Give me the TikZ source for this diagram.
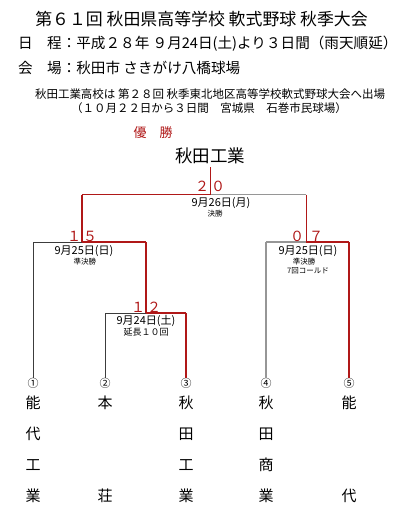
\documentclass[tikz,border=0pt]{standalone}
\usepackage{fontspec}
\setmainfont{Noto Sans CJK JP}
\begin{document}
\begin{tikzpicture}[x=1pt,y=-1pt,
  txt/.style={inner sep=0pt,outer sep=0pt},
  win/.style={draw=winred,line width=1.6pt},
  winthin/.style={draw=winred,line width=0.9pt},
  lose/.style={draw=losedark,line width=0.9pt},
  losegray/.style={draw=losegray,line width=1.2pt},
  score/.style={txt,text=winred,font=\fontsize{14}{14}\selectfont},
  datet/.style={txt,font=\fontsize{11}{11}\selectfont},
  subt/.style={txt,font=\fontsize{7.5}{7.5}\selectfont},
  numc/.style={txt,font=\fontsize{11}{11}\selectfont},
  team/.style={txt,font=\fontsize{15}{15}\selectfont}]
\definecolor{winred}{RGB}{176,24,24}
\definecolor{losedark}{RGB}{60,60,60}
\definecolor{losegray}{RGB}{150,150,150}
\useasboundingbox[fill=white] (0,0) rectangle (400,515);

% header
\node[txt,font=\fontsize{16.9}{16.9}\selectfont] (title) at (201.5,19) {第６１回 秋田県高等学校 軟式野球 秋季大会};
\node[txt,anchor=west,font=\fontsize{14.6}{14.6}\selectfont] (sched) at (18,44) {日　程：平成２８年 ９月24日(土)より３日間（雨天順延）};
\node[txt,anchor=west,font=\fontsize{14.6}{14.6}\selectfont] (venue) at (18,68) {会　場：秋田市 さきがけ八橋球場};
\node[txt,anchor=west,font=\fontsize{11.5}{11.5}\selectfont] (note1) at (35,94) {秋田工業高校は 第２８回 秋季東北地区高等学校軟式野球大会へ出場};
\node[txt,anchor=west,font=\fontsize{11.5}{11.5}\selectfont] (note2) at (71,108) {（１０月２２日から３日間　宮城県　石巻市民球場）};
\node[txt,text=winred,font=\fontsize{13}{13}\selectfont] (champ) at (153,133) {優　勝};
\node[txt,font=\fontsize{17.5}{17.5}\selectfont] (winner) at (210,156) {秋田工業};

% bracket coordinates
\coordinate (ftop) at (210,167);
\coordinate (fmid) at (210,194.5);
\coordinate (fl) at (82,194.5);
\coordinate (fr) at (306,194.5);
\coordinate (sl) at (82,242);
\coordinate (sr) at (306,242);
\coordinate (sla) at (33,242);
\coordinate (slb) at (146,242);
\coordinate (sra) at (266,242);
\coordinate (srb) at (349,242);
\coordinate (qtop) at (146,313);
\coordinate (qa) at (105,313);
\coordinate (qb) at (186,313);

% circled numbers
\node[numc] (n1) at (33,383) {①};
\node[numc] (n2) at (105,383) {②};
\node[numc] (n3) at (186,383) {③};
\node[numc] (n4) at (266,383) {④};
\node[numc] (n5) at (349,383) {⑤};

% losing lines
\draw[losegray] (fmid) -- (fr);
\draw[lose] (sla) -- (sl);
\draw[losegray] (sra) -- (sr);
\draw[lose] (qa) -- (qtop);
\draw[lose] (sla) -- (n1.north);
\draw[lose] (qa) -- (n2.north);
\draw[losegray] (sra) -- (n4.north);
% winning lines
\draw[winthin] (ftop) -- (fmid);
\draw[win] (fl) -- (fmid);
\draw[win] (fl) -- (sl);
\draw[winthin] (fr) -- (sr);
\draw[win] (sl) -- (slb);
\draw[win] (sr) -- (srb);
\draw[win] (slb) -- (qtop);
\draw[win] (qtop) -- (qb);
\draw[win] (qb) -- (n3.north);
\draw[win] (srb) -- (n5.north);

% scores and dates
\node[score] (fs1) at (202,186) {２};
\node[score] (fs2) at (218,186) {０};
\node[datet] (fd) at (221,203) {9月26日(月)};
\node[subt] (fsub) at (215,214) {決勝};

\node[score] (ls1) at (74,236) {１};
\node[score] (ls2) at (90,236) {５};
\node[datet] (ld) at (84,251) {9月25日(日)};
\node[subt] (lsub) at (85,262) {準決勝};

\node[score] (rs1) at (297,236) {０};
\node[score] (rs2) at (316,236) {７};
\node[datet] (rd) at (308,251) {9月25日(日)};
\node[subt] (rsub) at (304,262) {準決勝};
\node[subt] (rsub2) at (308,270.5) {7回コールド};

\node[score] (qs1) at (138,307) {１};
\node[score] (qs2) at (154,307) {２};
\node[datet] (qd) at (146,321) {9月24日(土)};
\node[subt,font=\fontsize{9}{9}\selectfont] (qsub) at (146,332) {延長１０回};

% team names
\node[team] (t1a) at (33,403) {能};
\node[team] (t1b) at (33,434) {代};
\node[team] (t1c) at (33,465) {工};
\node[team] (t1d) at (33,496) {業};
\node[team] (t2a) at (105,403) {本};
\node[team] (t2d) at (105,496) {荘};
\node[team] (t3a) at (186,403) {秋};
\node[team] (t3b) at (186,434) {田};
\node[team] (t3c) at (186,465) {工};
\node[team] (t3d) at (186,496) {業};
\node[team] (t4a) at (266,403) {秋};
\node[team] (t4b) at (266,434) {田};
\node[team] (t4c) at (266,465) {商};
\node[team] (t4d) at (266,496) {業};
\node[team] (t5a) at (349,403) {能};
\node[team] (t5d) at (349,496) {代};
\end{tikzpicture}
\end{document}
